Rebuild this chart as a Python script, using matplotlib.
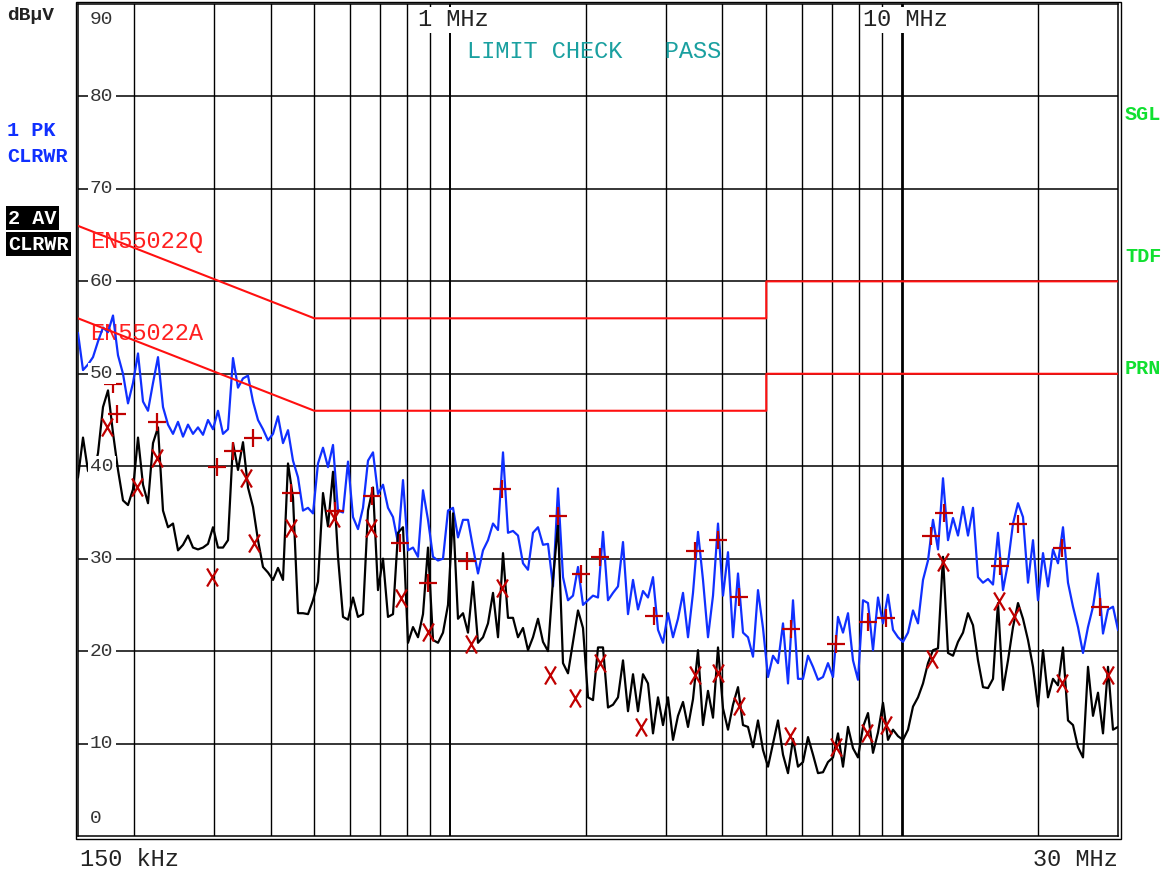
import matplotlib
matplotlib.use('Agg')
import matplotlib.pyplot as plt
import numpy as np
from matplotlib.path import Path
from matplotlib.patches import Rectangle

# peak trace (blue), dBuV, sweep 150 kHz .. 30 MHz
pk_levels = [
    54.4, 50.4, 51.0, 51.8, 53.5, 55.0, 54.5, 56.3, 52.0, 50.0,
    46.8, 49.0, 52.2, 47.0, 46.0, 49.0, 51.8, 46.4, 44.5, 43.5,
    44.8, 43.2, 44.5, 43.5, 44.2, 43.4, 45.0, 44.0, 46.0, 43.5,
    44.0, 51.7, 48.5, 49.5, 49.8, 47.0, 45.0, 44.0, 42.8, 43.5,
    45.4, 42.5, 43.9, 40.6, 38.8, 35.2, 35.5, 34.9, 40.3, 42.0,
    39.9, 42.3, 35.2, 35.0, 40.5, 34.5, 33.2, 35.5, 40.6, 41.5,
    37.0, 38.0, 35.5, 34.5, 31.7, 38.5, 30.9, 31.2, 30.2, 37.4,
    34.2, 30.2, 29.8, 30.0, 35.2, 35.5, 32.3, 34.2, 34.2, 31.2,
    28.4, 30.9, 32.0, 33.8, 33.1, 41.5, 32.8, 33.0, 32.5, 29.5,
    28.8, 32.8, 33.4, 31.5, 31.6, 27.0, 37.6, 28.0, 25.5, 26.0,
    29.1, 25.0, 25.5, 26.0, 25.8, 32.9, 25.5, 26.3, 27.0, 31.8,
    24.0, 27.7, 24.5, 26.5, 25.8, 28.0, 22.3, 20.9, 24.1, 21.5,
    23.5, 26.3, 21.5, 26.3, 32.9, 27.7, 21.5, 26.0, 33.8, 26.0,
    30.7, 21.5, 28.4, 22.0, 21.5, 19.4, 26.6, 22.5, 17.2, 19.5,
    18.7, 23.0, 16.5, 25.5, 17.0, 17.0, 19.5, 18.3, 16.9, 17.2,
    18.7, 17.2, 23.7, 22.0, 24.1, 19.0, 16.9, 25.5, 25.2, 20.1,
    25.8, 23.0, 26.1, 22.3, 21.5, 21.0, 22.0, 24.4, 23.0, 27.7,
    29.8, 34.2, 31.0, 38.7, 32.0, 34.4, 32.5, 35.6, 32.5, 35.5,
    28.0, 27.4, 27.8, 27.2, 32.8, 26.6, 29.5, 33.8, 36.0, 34.5,
    27.4, 32.0, 25.5, 30.6, 27.0, 31.0, 29.5, 33.4, 27.4, 24.8,
    22.6, 19.8, 22.6, 24.8, 28.4, 21.9, 24.5, 24.8, 22.3,
]

# average trace (black)
av_levels = [
    38.8, 43.1, 39.5, 39.0, 41.4, 46.4, 48.2, 43.6, 39.6, 36.3,
    35.8, 37.5, 43.1, 38.0, 36.0, 42.5, 44.2, 35.2, 33.4, 33.8,
    30.9, 31.5, 32.5, 31.2, 31.0, 31.2, 31.6, 33.4, 31.2, 31.2,
    32.0, 42.5, 39.6, 42.6, 37.7, 35.6, 32.0, 29.1, 28.5, 27.7,
    29.0, 27.7, 40.3, 36.6, 24.1, 24.1, 24.0, 25.5, 27.5, 37.1,
    33.5, 39.4, 30.2, 23.7, 23.4, 25.8, 23.7, 24.0, 35.2, 37.7,
    26.6, 30.0, 23.7, 24.0, 32.8, 33.4, 20.9, 22.6, 21.5, 24.0,
    31.2, 21.2, 20.9, 22.0, 25.0, 34.9, 23.5, 24.1, 22.0, 27.5,
    20.9, 21.5, 23.0, 26.3, 21.5, 30.6, 23.6, 23.6, 21.5, 22.5,
    20.1, 21.5, 23.5, 21.0, 20.0, 27.7, 33.8, 18.7, 17.6, 21.0,
    24.4, 22.5, 15.0, 14.7, 20.4, 20.4, 13.9, 14.2, 15.0, 19.0,
    13.5, 17.5, 13.5, 17.5, 16.5, 11.1, 15.0, 12.0, 15.0, 10.4,
    13.0, 14.5, 11.8, 14.8, 20.1, 12.0, 15.7, 12.8, 20.4, 13.8,
    11.5, 14.2, 16.1, 12.0, 11.8, 9.6, 12.5, 9.3, 7.5, 10.0,
    12.5, 8.8, 6.8, 10.5, 7.5, 8.0, 10.7, 8.8, 6.8, 6.9,
    8.0, 8.5, 11.1, 7.5, 11.8, 9.5, 8.5, 11.8, 13.3, 9.0,
    11.2, 14.4, 10.4, 11.5, 10.8, 10.4, 11.5, 14.0, 15.0, 16.5,
    18.7, 20.1, 20.3, 30.2, 19.8, 19.5, 21.0, 22.0, 24.1, 22.8,
    19.0, 16.1, 16.0, 17.0, 25.2, 15.8, 19.0, 22.6, 25.2, 23.5,
    21.2, 18.3, 14.0, 20.1, 15.0, 17.0, 16.3, 20.4, 12.5, 12.0,
    9.6, 8.5, 18.3, 13.0, 15.5, 11.1, 18.3, 11.5, 11.8,
]

# final measurement points, MHz / dBuV
qp_freq = [0.179, 0.183, 0.224, 0.305, 0.331, 0.366, 0.444, 0.556, 0.671, 0.774,
           0.893, 1.088, 1.301, 1.730, 1.946, 2.143, 2.822, 3.477, 3.909, 4.352,
           5.670, 7.131, 8.395, 9.201, 11.57, 12.36, 16.44, 18.03, 22.55, 27.37]
qp_level = [48.9, 45.7, 44.8, 39.9, 41.7, 43.1, 37.1, 35.2, 36.8, 31.7,
            27.4, 29.7, 37.5, 34.6, 28.3, 30.2, 23.8, 30.8, 32.0, 25.9,
            22.4, 20.8, 23.1, 23.6, 32.5, 34.9, 29.2, 33.7, 31.1, 24.8]
avm_freq = [0.174, 0.203, 0.224, 0.297, 0.353, 0.368, 0.444, 0.553, 0.667, 0.778,
            0.893, 1.111, 1.301, 1.661, 1.887, 2.143, 2.641, 3.477, 3.909, 4.352,
            5.641, 7.131, 8.353, 9.201, 11.63, 12.30, 16.36, 17.66, 22.55, 28.52]
avm_level = [44.2, 37.7, 40.9, 28.0, 38.7, 31.7, 33.3, 34.4, 33.3, 25.7,
             22.1, 20.8, 26.8, 17.4, 14.9, 18.7, 11.8, 17.4, 17.6, 14.1,
             10.8, 9.6, 11.1, 12.0, 19.1, 29.6, 25.4, 23.8, 16.5, 17.4]

lim_freq = [0.15, 0.5, 5.0, 5.0, 30.0]
lim_q = [66, 56, 56, 60, 60]
lim_a = [56, 46, 46, 50, 50]

grid_freqs = [0.2, 0.3, 0.4, 0.5, 0.6, 0.7, 0.8, 0.9, 1.0,
              2, 3, 4, 5, 6, 7, 8, 9, 10, 20]
level_ticks = [90, 80, 70, 60, 50, 40, 30, 20, 10, 0]

plt.rcParams['font.family'] = ['Liberation Mono', 'DejaVu Sans Mono']

W, H = 1168, 874
fig = plt.figure(figsize=(W / 100, H / 100), dpi=100)
ax = fig.add_axes([78 / W, 1 - 836 / H, 1040 / W, 832 / H])
ax.set_xscale('log')
ax.set_xlim(0.15, 30)
ax.set_ylim(0, 90)
ax.set_xticks([])
ax.set_yticks([])
ax.minorticks_off()
for s in ax.spines.values():
    s.set_linewidth(1.1)
fig.patches.append(Rectangle((75.5 / W, 1 - 838.5 / H), 1045 / W, 837 / H,
                             transform=fig.transFigure, fill=False,
                             lw=1.0, ec='black'))

# grid
for lv in level_ticks[1:-1]:
    ax.axhline(lv, color='black', lw=1.1, zorder=1)
for f in grid_freqs:
    w = 1.0
    if f == 1.0:
        w = 1.4
    if f == 10:
        w = 2.0
    ax.axvline(f, color='black', lw=w, zorder=1)

# limit lines
ax.plot(lim_freq, lim_q, color='#ff1010', lw=1.5, zorder=4)
ax.plot(lim_freq, lim_a, color='#ff1010', lw=1.5, zorder=4)

freq = np.geomspace(0.15, 30, len(pk_levels))
ax.plot(freq, pk_levels, color='#1030ff', lw=1.6, zorder=3)
freq2 = np.geomspace(0.15, 30, len(av_levels))
ax.plot(freq2, av_levels, color='black', lw=1.6, zorder=3)

xmark = Path([(-0.6, -1), (0.6, 1), (-0.6, 1), (0.6, -1)],
             [Path.MOVETO, Path.LINETO, Path.MOVETO, Path.LINETO])
ax.plot(qp_freq, qp_level, ls='none', marker='+', ms=13, mew=1.6,
        color='#c00000', zorder=5)
ax.plot(avm_freq, avm_level, ls='none', marker=xmark, ms=13, mew=1.6,
        color='#c00000', zorder=5)

# level labels inside the plot
yt = ax.get_yaxis_transform()
for lv in level_ticks:
    ypos = lv
    if lv == 90:
        ypos = 88.3
    if lv == 0:
        ypos = 1.9
    ax.text(0.0115, ypos, str(lv), transform=yt, fontsize=14, color='#333333',
            va='center', ha='left', zorder=6,
            bbox=dict(fc='white', ec='none', pad=1.5))

ax.text(0.327, 88.3, '1 MHz', transform=yt, fontsize=17, color='#222222',
        va='center', ha='left', zorder=6, bbox=dict(fc='white', ec='none', pad=1))
ax.text(0.755, 88.3, '10 MHz', transform=yt, fontsize=17, color='#222222',
        va='center', ha='left', zorder=6, bbox=dict(fc='white', ec='none', pad=1))
ax.text(0.374, 84.9, 'LIMIT CHECK   PASS', transform=yt, fontsize=17,
        color='#1aa0a0', va='center', ha='left', zorder=6)
ax.text(0.0115, 64.3, 'EN55022Q', transform=yt, fontsize=17, color='#ff2020',
        va='center', ha='left', zorder=6)
ax.text(0.0115, 54.4, 'EN55022A', transform=yt, fontsize=17, color='#ff2020',
        va='center', ha='left', zorder=2)

# outside labels
def ftext(x, y, s, **kw):
    fig.text(x / W, 1 - y / H, s, va='center', **kw)

ftext(80, 859, '150 kHz', fontsize=17, color='#222222', ha='left')
ftext(1118, 859, '30 MHz', fontsize=17, color='#222222', ha='right')
ftext(7, 15, 'dBμV', fontsize=14, color='#222222', ha='left', weight='bold')
ftext(7, 131, '1 PK', fontsize=14.5, color='#1030ff', ha='left', weight='bold')
ftext(7, 157, 'CLRWR', fontsize=14.5, color='#1030ff', ha='left', weight='bold')
ftext(8, 218, '2 AV', fontsize=14.5, color='white', ha='left', weight='bold',
      bbox=dict(fc='black', ec='none', pad=1.5))
ftext(8, 244, 'CLRWR', fontsize=14.5, color='white', ha='left', weight='bold',
      bbox=dict(fc='black', ec='none', pad=1.5))
ftext(1125, 115, 'SGL', fontsize=14.5, color='#10e030', ha='left', weight='bold')
ftext(1125, 257, 'TDF', fontsize=14.5, color='#10e030', ha='left', weight='bold')
ftext(1125, 368, 'PRN', fontsize=14.5, color='#10e030', ha='left', weight='bold')

fig.savefig('out.png', dpi=100, facecolor='white')
